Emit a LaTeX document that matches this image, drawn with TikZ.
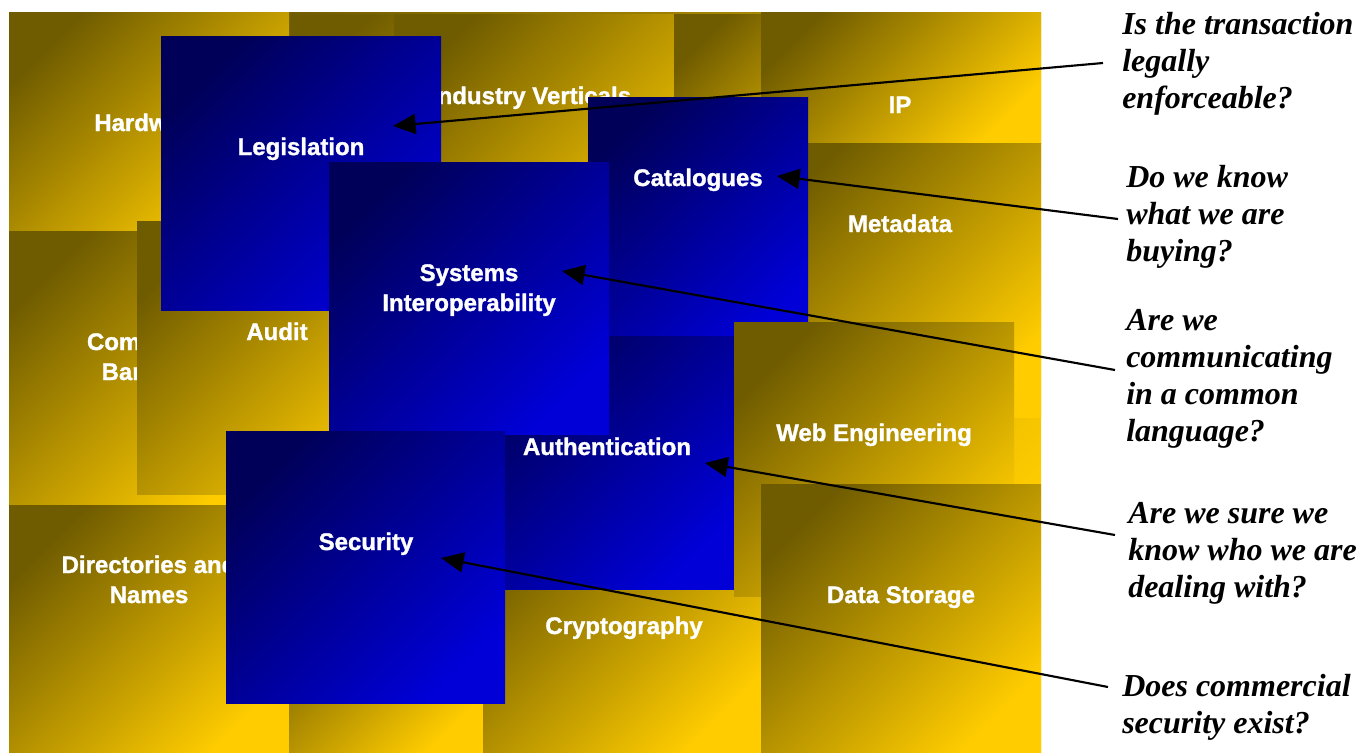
\documentclass[tikz,border=0pt]{standalone}
\usepackage{fontspec}
\setmainfont{Liberation Serif}
\newfontfamily\labsans{Liberation Sans}[BoldFeatures={FakeBold=1.3}]
\usetikzlibrary{arrows.meta}
\definecolor{golddark}{RGB}{112,92,0}
\definecolor{goldlight}{RGB}{255,204,0}
\definecolor{bluedark}{RGB}{0,0,88}
\definecolor{bluelight}{RGB}{0,0,215}
\tikzset{
  goldbox/.style={top color=golddark, bottom color=goldlight, shading angle=45},
  bluebox/.style={top color=bluedark, bottom color=bluelight, shading angle=45},
  lbl/.style={text=white, font=\labsans\bfseries\fontsize{18}{22}\selectfont, inner sep=0pt, anchor=base},
  question/.style={font=\bfseries\itshape\fontsize{24}{27.75}\selectfont, align=left, anchor=north west, inner sep=0pt},
  pointer/.style={line width=1.6pt, -{Triangle[length=17pt,width=15pt]}},
}
\begin{document}
\begin{tikzpicture}[x=0.75pt,y=-0.75pt]
\useasboundingbox (0,0) rectangle (1371,753);
% gold background and boxes
\path[goldbox] (9,12) rectangle (1041,753);
\path[goldbox] (289,14) rectangle (569,300);
\path[goldbox] (9,12) rectangle (289,231);
\path[goldbox] (394,14) rectangle (674,294);
\path[goldbox] (674,14) rectangle (761,300);
\path[goldbox] (761,12) rectangle (1041,143);
\path[goldbox] (761,143) rectangle (1041,417);
\node[lbl] (hw) at (149,131) {Hardware};
\node[lbl] (iv) at (531,104) {Industry Verticals};
\node[lbl] (ip) at (900,113) {IP};
\node[lbl] (md) at (900,232) {Metadata};
\path[goldbox] (9,231) rectangle (289,505);
\node[lbl] (cb1) at (149,350) {Commerce};
\node[lbl] (cb2) at (149,380) {Banking};
\path[goldbox] (137,221) rectangle (417,494);
\node[lbl] (au) at (277,340) {Audit};
\path[goldbox] (9,505) rectangle (289,753);
\node[lbl] (dn1) at (149,573) {Directories and};
\node[lbl] (dn2) at (149,603) {Names};
\path[goldbox] (289,560) rectangle (483,753);
\path[goldbox] (483,500) rectangle (763,753);
\node[lbl] (cr) at (624,634) {Cryptography};
% blue boxes
\path[bluebox] (161,36) rectangle (441,310);
\path[bluebox] (588,97) rectangle (808,347);
\path[bluebox] (478,336) rectangle (734,589);
\path[bluebox] (329,162) rectangle (609,434);
\path[bluebox] (226,431) rectangle (505,703);
\node[lbl] (lg) at (301,155) {Legislation};
\node[lbl] (ct) at (698,186) {Catalogues};
\node[lbl] (si1) at (469,281) {Systems};
\node[lbl] (si2) at (469,311) {Interoperability};
\node[lbl] (at) at (607,455) {Authentication};
\node[lbl] (sc) at (366,550) {Security};
% gold boxes on top
\path[goldbox] (734,322) rectangle (1014,596);
\node[lbl] (we) at (874,441) {Web Engineering};
\path[goldbox] (761,484) rectangle (1041,753);
\node[lbl] (ds) at (901,603) {Data Storage};
% questions
\node[question] (q1) at (1122,12) {Is the transaction\\legally\\enforceable?};
\node[question] (q2) at (1126,165) {Do we know\\what we are\\buying?};
\node[question] (q3) at (1126,309) {Are we\\communicating\\in a common\\language?};
\node[question] (q4) at (1128,502) {Are we sure we\\know who we are\\dealing with?};
\node[question] (q5) at (1122,674) {Does commercial\\security exist?};
% arrows
\coordinate (s1) at (1103,63);  \coordinate (t1) at (393,126);
\coordinate (s2) at (1118,219); \coordinate (t2) at (777,176);
\coordinate (s3) at (1115,370); \coordinate (t3) at (562,271);
\coordinate (s4) at (1115,535); \coordinate (t4) at (705,463);
\coordinate (s5) at (1108,687); \coordinate (t5) at (441,558);
\draw[pointer] (s1) -- (t1);
\draw[pointer] (s2) -- (t2);
\draw[pointer] (s3) -- (t3);
\draw[pointer] (s4) -- (t4);
\draw[pointer] (s5) -- (t5);
\end{tikzpicture}
\end{document}
